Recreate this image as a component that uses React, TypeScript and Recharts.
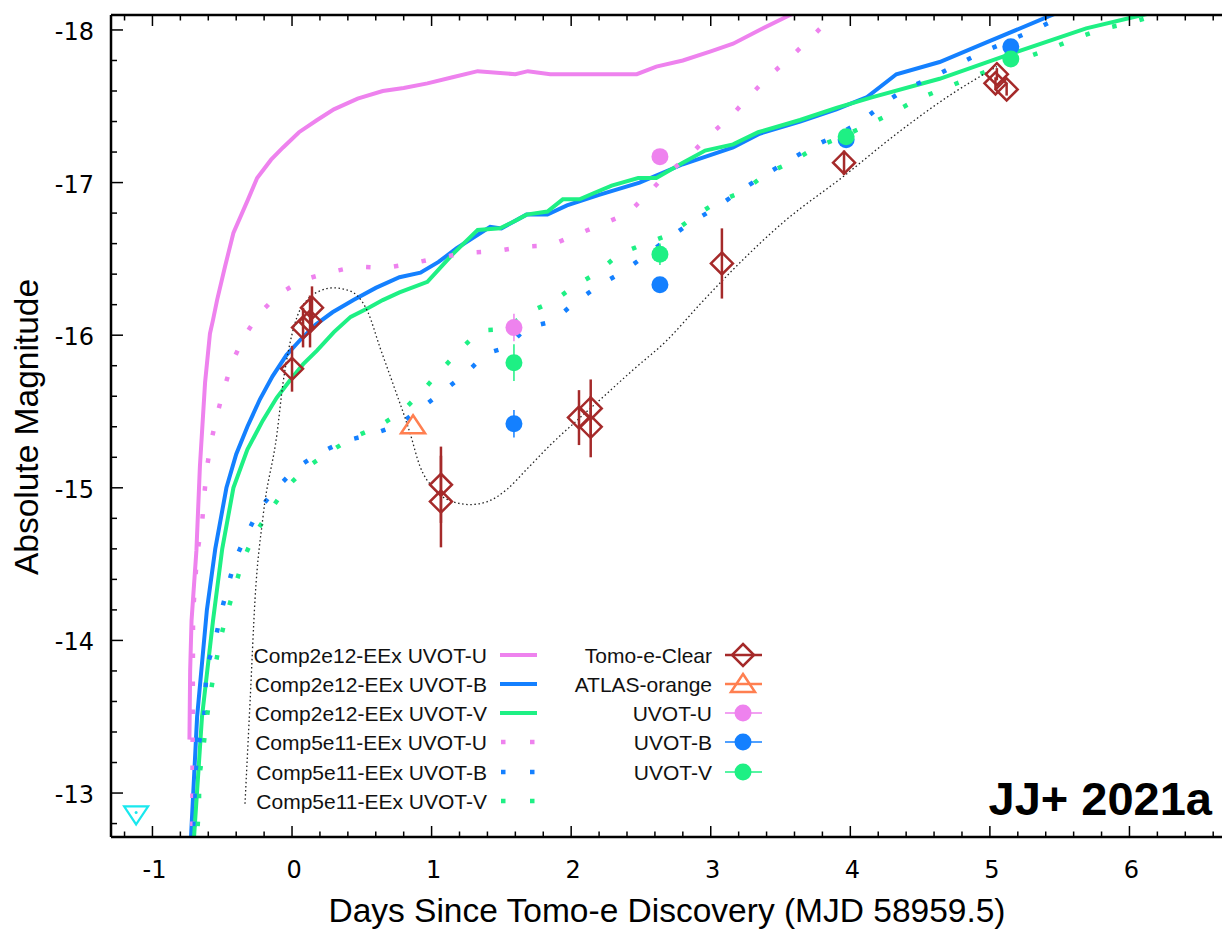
import React from "react";
import { ComposedChart, Line, Scatter, XAxis, YAxis, ErrorBar, Legend } from "recharts";

// colours (gnuplot-ish)
const VIOLET = "#EE82EE";
const BLUE = "#1480FF";
const GREEN = "#1EF084";
const BROWN = "#A52A2A";
const CORAL = "#FF7F50";
const CYAN = "#19E8EE";

const X_DOMAIN: [number, number] = [-1.297, 6.663];
const Y_DOMAIN: [number, number] = [-18.098, -12.712];

const xMajorTicks = [-1, 0, 1, 2, 3, 4, 5, 6];
const yMajorTicks = [-18, -17, -16, -15, -14, -13];

// minor ticks every 0.2
const xTicks = Array.from({ length: 40 }, (_, i) => +(-1.2 + i * 0.2).toFixed(1));
const yTicks = Array.from({ length: 27 }, (_, i) => +(-18 + i * 0.2).toFixed(1));

// model curves: [days, abs mag]
const comp2e12U = [
  [-0.735, -13.35], [-0.73, -13.8], [-0.72, -14.13], [-0.685, -14.59], [-0.66, -15.14], [-0.623, -15.69],
  [-0.588, -16.01], [-0.566, -16.1], [-0.537, -16.23], [-0.48, -16.45], [-0.42, -16.67], [-0.315, -16.89],
  [-0.25, -17.03], [-0.15, -17.15], [-0.064, -17.23], [0.05, -17.33], [0.18, -17.41], [0.3, -17.48],
  [0.47, -17.55], [0.65, -17.6], [0.8, -17.62], [0.97, -17.65], [1.15, -17.69], [1.33, -17.73],
  [1.6, -17.71], [1.69, -17.73], [1.85, -17.71], [2.2, -17.71], [2.47, -17.71], [2.61, -17.76],
  [2.8, -17.8], [3.0, -17.86], [3.16, -17.91], [3.35, -18.0], [3.55, -18.09], [3.8, -18.2],
];

const comp2e12B = [
  [-0.73, -12.6], [-0.68, -13.5], [-0.61, -14.2], [-0.55, -14.6], [-0.47, -15.0], [-0.4, -15.22],
  [-0.32, -15.4], [-0.23, -15.58], [-0.14, -15.73], [-0.04, -15.87], [0.06, -15.97], [0.17, -16.07],
  [0.29, -16.15], [0.44, -16.23], [0.6, -16.31], [0.77, -16.38], [0.92, -16.41], [1.05, -16.48],
  [1.18, -16.57], [1.3, -16.64], [1.42, -16.71], [1.5, -16.7], [1.68, -16.79], [1.83, -16.79],
  [1.97, -16.85], [2.2, -16.92], [2.49, -17.0], [2.8, -17.12], [3.16, -17.23], [3.35, -17.32],
  [3.64, -17.4], [3.9, -17.48], [4.12, -17.56], [4.33, -17.71], [4.64, -17.79], [4.98, -17.92],
  [5.45, -18.1], [5.6, -18.15],
];

const comp2e12V = [
  [-0.71, -12.6], [-0.645, -13.5], [-0.566, -14.13], [-0.5, -14.6], [-0.42, -15.0], [-0.32, -15.25],
  [-0.21, -15.44], [-0.11, -15.59], [-0.01, -15.71], [0.08, -15.81], [0.18, -15.9], [0.3, -16.02],
  [0.42, -16.12], [0.55, -16.18], [0.65, -16.23], [0.77, -16.28], [0.97, -16.35], [1.15, -16.53],
  [1.33, -16.69], [1.49, -16.7], [1.6, -16.75], [1.68, -16.79], [1.83, -16.81], [1.94, -16.89],
  [2.06, -16.89], [2.16, -16.93], [2.29, -16.98], [2.48, -17.03], [2.61, -17.03], [2.8, -17.13],
  [2.96, -17.21], [3.16, -17.25], [3.34, -17.33], [3.64, -17.41], [3.9, -17.49], [4.16, -17.56],
  [4.64, -17.68], [5.17, -17.85], [5.69, -18.01], [6.1, -18.1], [6.3, -18.14],
];

const comp5e11U = [
  [-0.715, -12.6], [-0.709, -14.18], [-0.68, -14.57], [-0.645, -14.76], [-0.63, -14.94], [-0.61, -15.13],
  [-0.58, -15.3], [-0.537, -15.48], [-0.487, -15.65], [-0.43, -15.82], [-0.344, -15.99], [-0.236, -16.14],
  [-0.093, -16.27], [0.072, -16.36], [0.258, -16.41], [0.458, -16.45], [0.66, -16.44], [0.86, -16.47],
  [1.06, -16.51], [1.26, -16.54], [1.46, -16.55], [1.655, -16.58], [1.855, -16.59], [2.04, -16.66],
  [2.23, -16.73], [2.41, -16.8], [2.55, -16.93], [2.69, -17.06], [2.85, -17.18], [2.99, -17.31],
  [3.14, -17.43], [3.28, -17.57], [3.42, -17.7], [3.57, -17.82], [3.72, -17.95], [3.87, -18.09],
  [3.95, -18.16],
];

const comp5e11B = [
  [-0.7, -12.6], [-0.695, -12.91], [-0.688, -13.1], [-0.68, -13.28], [-0.63, -13.46], [-0.623, -13.64],
  [-0.61, -13.83], [-0.55, -14.0], [-0.51, -14.18], [-0.408, -14.53], [-0.322, -14.7], [-0.236, -14.86],
  [-0.107, -15.0], [0.029, -15.13], [0.2, -15.23], [0.387, -15.31], [0.573, -15.35], [0.76, -15.41],
  [0.924, -15.52], [1.08, -15.63], [1.246, -15.75], [1.39, -15.88], [1.54, -15.92], [1.68, -16.05],
  [1.87, -16.09], [2.02, -16.21], [2.19, -16.32], [2.36, -16.41], [2.53, -16.52], [2.69, -16.63],
  [2.86, -16.74], [3.03, -16.83], [3.2, -16.94], [3.37, -17.04], [3.55, -17.14], [3.72, -17.23],
  [3.9, -17.31], [4.08, -17.4], [4.24, -17.52], [4.41, -17.62], [4.59, -17.69], [4.78, -17.78],
  [4.96, -17.86], [5.14, -17.93], [5.34, -18.01], [5.52, -18.09], [5.65, -18.15],
];

const comp5e11V = [
  [-0.685, -12.6], [-0.68, -12.74], [-0.666, -12.91], [-0.666, -13.1], [-0.637, -13.28], [-0.616, -13.46],
  [-0.587, -13.64], [-0.55, -13.83], [-0.516, -14.0], [-0.466, -14.18], [-0.35, -14.53], [-0.265, -14.7],
  [-0.158, -14.85], [-0.043, -15.0], [0.1, -15.13], [0.258, -15.23], [0.437, -15.33], [0.616, -15.4],
  [0.788, -15.5], [0.93, -15.63], [1.067, -15.77], [1.21, -15.91], [1.347, -16.03], [1.53, -16.04],
  [1.69, -16.15], [1.87, -16.22], [2.02, -16.32], [2.19, -16.41], [2.34, -16.53], [2.53, -16.6],
  [2.71, -16.66], [2.87, -16.77], [3.04, -16.87], [3.23, -16.94], [3.4, -17.06], [3.57, -17.13],
  [3.75, -17.23], [3.94, -17.3], [4.13, -17.38], [4.31, -17.46], [4.49, -17.55], [4.68, -17.62],
  [4.87, -17.69], [5.06, -17.76], [5.26, -17.82], [5.44, -17.88], [5.63, -17.95], [5.82, -18.01],
  [6.02, -18.05], [6.2, -18.1], [6.35, -18.14],
];

// thin dotted fit through the Tomo-e points
const fitCurve = [
  [-0.337, -12.93], [-0.3, -13.61], [-0.265, -14.27], [-0.208, -14.81], [-0.107, -15.36], [-0.064, -15.69],
  [-0.014, -15.95], [0.036, -16.12], [0.107, -16.23], [0.2, -16.29], [0.294, -16.31], [0.38, -16.3],
  [0.466, -16.26], [0.544, -16.15], [0.63, -15.92], [0.72, -15.69], [0.845, -15.36], [0.917, -15.14],
  [1.01, -15.0], [1.15, -14.91], [1.275, -14.89], [1.4, -14.91], [1.54, -14.99], [1.68, -15.12],
  [1.85, -15.28], [2.04, -15.44], [2.21, -15.58], [2.44, -15.77], [2.69, -15.97], [2.92, -16.2],
  [3.16, -16.43], [3.52, -16.74], [3.95, -17.04], [4.36, -17.34], [4.71, -17.57], [5.05, -17.76],
];

// observations: [days, mag, err]
const tomoeClear = [
  [0.0, -15.78, 0.15], [0.079, -16.05, 0.13], [0.129, -16.09, 0.17], [0.143, -16.18, 0.14],
  [1.067, -15.02, 0.25], [1.067, -14.91, 0.3], [2.056, -15.46, 0.18], [2.14, -15.52, 0.19],
  [2.14, -15.4, 0.2], [3.08, -16.47, 0.23], [3.955, -17.13, 0.08], [5.05, -17.71, 0.04],
  [5.04, -17.65, 0.04], [5.12, -17.61, 0.04],
];
const atlasOrange = [[0.867, -15.41, 0]];
const uvotU = [[1.59, -16.05, 0.09], [2.636, -17.17, 0.04]];
const uvotB = [[1.59, -15.42, 0.09], [2.636, -16.33, 0.04], [3.97, -17.28, 0.04], [5.15, -17.89, 0.04]];
const uvotV = [[1.59, -15.82, 0.12], [2.636, -16.53, 0.07], [3.97, -17.3, 0.04], [5.15, -17.81, 0.04]];
const upperLimit = [[-1.117, -12.86, 0]];

const modelLabels = [
  "Comp2e12-EEx UVOT-U", "Comp2e12-EEx UVOT-B", "Comp2e12-EEx UVOT-V",
  "Comp5e11-EEx UVOT-U", "Comp5e11-EEx UVOT-B", "Comp5e11-EEx UVOT-V",
];
const obsLabels = ["Tomo-e-Clear", "ATLAS-orange", "UVOT-U", "UVOT-B", "UVOT-V"];

type Pt = { d: number; m: number; e?: number };
const toPts = (arr: number[][]): Pt[] => arr.map(([d, m, e]) => ({ d, m, e }));

const TICK_FONT = "'DejaVu Sans', sans-serif";
const TEXT_FONT = "'Liberation Sans', Arial, Helvetica, sans-serif";

const isMajor = (v: number) => xMajorTicks.includes(v) || yMajorTicks.includes(v);

const BottomTick = (p: any) => {
  const v = p.payload.value;
  const big = isMajor(v);
  return (
    <g>
      <line x1={p.x} x2={p.x} y1={p.y} y2={p.y - (big ? 11 : 5.5)} stroke="#000" strokeWidth={1.5} />
      {big && (
        <text x={p.x + 2} y={p.y + 41} textAnchor="middle" fontFamily={TICK_FONT} fontSize={24} fill="#000">
          {v}
        </text>
      )}
    </g>
  );
};

const TopTick = (p: any) => {
  const big = isMajor(p.payload.value);
  return <line x1={p.x} x2={p.x} y1={p.y} y2={p.y + (big ? 11 : 5.5)} stroke="#000" strokeWidth={1.5} />;
};

const LeftTick = (p: any) => {
  const v = p.payload.value;
  const big = isMajor(v);
  return (
    <g>
      <line x1={p.x} x2={p.x + (big ? 12 : 6)} y1={p.y} y2={p.y} stroke="#000" strokeWidth={1.5} />
      {big && (
        <text x={p.x - 17} y={p.y + 10} textAnchor="end" fontFamily={TICK_FONT} fontSize={24} fill="#000">
          {v}
        </text>
      )}
    </g>
  );
};

const diamond = (cx: number, cy: number, s = 11) =>
  `M${cx},${cy - s}L${cx + s},${cy}L${cx},${cy + s}L${cx - s},${cy}Z`;
const triUp = (cx: number, cy: number) => `M${cx},${cy - 10}L${cx + 12},${cy + 8}L${cx - 12},${cy + 8}Z`;
const triDown = (cx: number, cy: number) => `M${cx},${cy + 10}L${cx + 12},${cy - 8}L${cx - 12},${cy - 8}Z`;

const DiamondShape = (p: any) => <path d={diamond(p.cx, p.cy)} fill="none" stroke={BROWN} strokeWidth={2.5} />;
const TriangleShape = (p: any) => <path d={triUp(p.cx, p.cy)} fill="none" stroke={CORAL} strokeWidth={2.5} />;
const LimitShape = (p: any) => (
  <g>
    <path d={triDown(p.cx, p.cy)} fill="none" stroke={CYAN} strokeWidth={2.2} />
    <circle cx={p.cx} cy={p.cy - 2} r={1.5} fill={CYAN} />
  </g>
);
const dotShape = (color: string) => (p: any) => <circle cx={p.cx} cy={p.cy} r={8.5} fill={color} />;

const modelColors = [VIOLET, BLUE, GREEN, VIOLET, BLUE, GREEN];
const obsColors = [BROWN, CORAL, VIOLET, BLUE, GREEN];
const rowY = [655, 684, 713, 742, 772, 801];

// legend, axis titles and the tag drawn over the whole chart
const Overlay = () => (
  <svg width={1222} height={930} style={{ overflow: "visible", display: "block" }} fontFamily={TEXT_FONT}>
    <text transform="translate(38,427) rotate(-90)" textAnchor="middle" fontSize={33.5} fill="#000">
      Absolute Magnitude
    </text>
    <text x={667} y={922} textAnchor="middle" fontSize={33.5} fill="#000">
      Days Since Tomo-e Discovery (MJD 58959.5)
    </text>
    <text x={1212} y={815} textAnchor="end" fontSize={47} fontWeight="bold" fill="#000">
      JJ+ 2021a
    </text>
    {modelLabels.map((label, i) => (
      <g key={label}>
        <text x={487} y={rowY[i] + 8} textAnchor="end" fontSize={21} fill="#111">
          {label}
        </text>
        {i < 3 ? (
          <line x1={500} x2={537} y1={rowY[i]} y2={rowY[i]} stroke={modelColors[i]} strokeWidth={4} />
        ) : (
          <g>
            <rect x={501} y={rowY[i] - 2.25} width={4.5} height={4.5} fill={modelColors[i]} />
            <rect x={530} y={rowY[i] - 2.25} width={4.5} height={4.5} fill={modelColors[i]} />
          </g>
        )}
      </g>
    ))}
    {obsLabels.map((label, i) => {
      const y = rowY[i];
      const c = obsColors[i];
      return (
        <g key={label}>
          <text x={712} y={y + 8} textAnchor="end" fontSize={21} fill="#111">
            {label}
          </text>
          <line x1={725} x2={762} y1={y} y2={y} stroke={c} strokeWidth={i < 2 ? 2.5 : 1.3} />
          {i === 0 && <path d={diamond(743, y, 11)} fill="none" stroke={c} strokeWidth={2.5} />}
          {i === 1 && <path d={triUp(743, y)} fill="none" stroke={c} strokeWidth={2.5} />}
          {i > 1 && <circle cx={743} cy={y} r={8.5} fill={c} />}
        </g>
      );
    })}
  </svg>
);

const solid = { strokeWidth: 4, dot: false, activeDot: false, isAnimationActive: false, type: "linear" as const };
const dotted = { ...solid, strokeWidth: 4.5, strokeDasharray: "4.5 23.5" };

export default function App() {
  return (
    <div style={{ position: "absolute", left: 0, top: 0, width: 1222, height: 930, background: "#fff" }}>
      {/* axes need a size > 0 or recharts skips them */}
      <ComposedChart width={1222} height={930} margin={{ top: 14, right: 0, bottom: 92, left: 110 }}>
        <XAxis
          type="number"
          dataKey="d"
          domain={X_DOMAIN}
          allowDataOverflow
          ticks={xTicks}
          interval={0}
          height={1}
          tickSize={0}
          tickMargin={0}
          tickLine={false}
          tick={BottomTick}
          axisLine={{ stroke: "#000", strokeWidth: 2.5 }}
        />
        <XAxis
          xAxisId="top"
          orientation="top"
          type="number"
          dataKey="d"
          domain={X_DOMAIN}
          allowDataOverflow
          ticks={xTicks}
          interval={0}
          height={1}
          tickSize={0}
          tickMargin={0}
          tickLine={false}
          tick={TopTick}
          axisLine={{ stroke: "#000", strokeWidth: 2.5 }}
        />
        <YAxis
          type="number"
          dataKey="m"
          domain={Y_DOMAIN}
          reversed
          allowDataOverflow
          ticks={yTicks}
          interval={0}
          width={1}
          tickSize={0}
          tickMargin={0}
          tickLine={false}
          tick={LeftTick}
          axisLine={{ stroke: "#000", strokeWidth: 2.5 }}
        />
        <Legend
          verticalAlign="middle"
          layout="horizontal"
          content={() => <Overlay />}
          wrapperStyle={{ position: "absolute", left: 0, top: 0, width: 1222, height: 930, pointerEvents: "none" }}
        />

        <Line data={toPts(comp2e12U)} dataKey="m" name={modelLabels[0]} stroke={VIOLET} {...solid} />
        <Line data={toPts(comp2e12B)} dataKey="m" name={modelLabels[1]} stroke={BLUE} {...solid} />
        <Line data={toPts(comp2e12V)} dataKey="m" name={modelLabels[2]} stroke={GREEN} {...solid} />
        <Line data={toPts(comp5e11U)} dataKey="m" name={modelLabels[3]} stroke={VIOLET} {...dotted} />
        <Line data={toPts(comp5e11B)} dataKey="m" name={modelLabels[4]} stroke={BLUE} {...dotted} />
        <Line data={toPts(comp5e11V)} dataKey="m" name={modelLabels[5]} stroke={GREEN} {...dotted} />
        <Line
          data={toPts(fitCurve)}
          dataKey="m"
          stroke="#222"
          strokeWidth={1.3}
          strokeDasharray="1.5 2.6"
          type="monotone"
          dot={false}
          activeDot={false}
          legendType="none"
          isAnimationActive={false}
        />

        <Scatter data={toPts(upperLimit)} dataKey="m" shape={LimitShape} legendType="none" isAnimationActive={false} />
        <Scatter data={toPts(atlasOrange)} dataKey="m" shape={TriangleShape} isAnimationActive={false} />
        <Scatter data={toPts(uvotU)} dataKey="m" shape={dotShape(VIOLET)} isAnimationActive={false}>
          <ErrorBar dataKey="e" direction="y" width={0} stroke={VIOLET} strokeWidth={1.5} />
        </Scatter>
        <Scatter data={toPts(uvotB)} dataKey="m" shape={dotShape(BLUE)} isAnimationActive={false}>
          <ErrorBar dataKey="e" direction="y" width={0} stroke={BLUE} strokeWidth={1.5} />
        </Scatter>
        <Scatter data={toPts(uvotV)} dataKey="m" shape={dotShape(GREEN)} isAnimationActive={false}>
          <ErrorBar dataKey="e" direction="y" width={0} stroke={GREEN} strokeWidth={1.5} />
        </Scatter>
        <Scatter data={toPts(tomoeClear)} dataKey="m" shape={DiamondShape} isAnimationActive={false}>
          <ErrorBar dataKey="e" direction="y" width={0} stroke={BROWN} strokeWidth={2.5} />
        </Scatter>
      </ComposedChart>
    </div>
  );
}
